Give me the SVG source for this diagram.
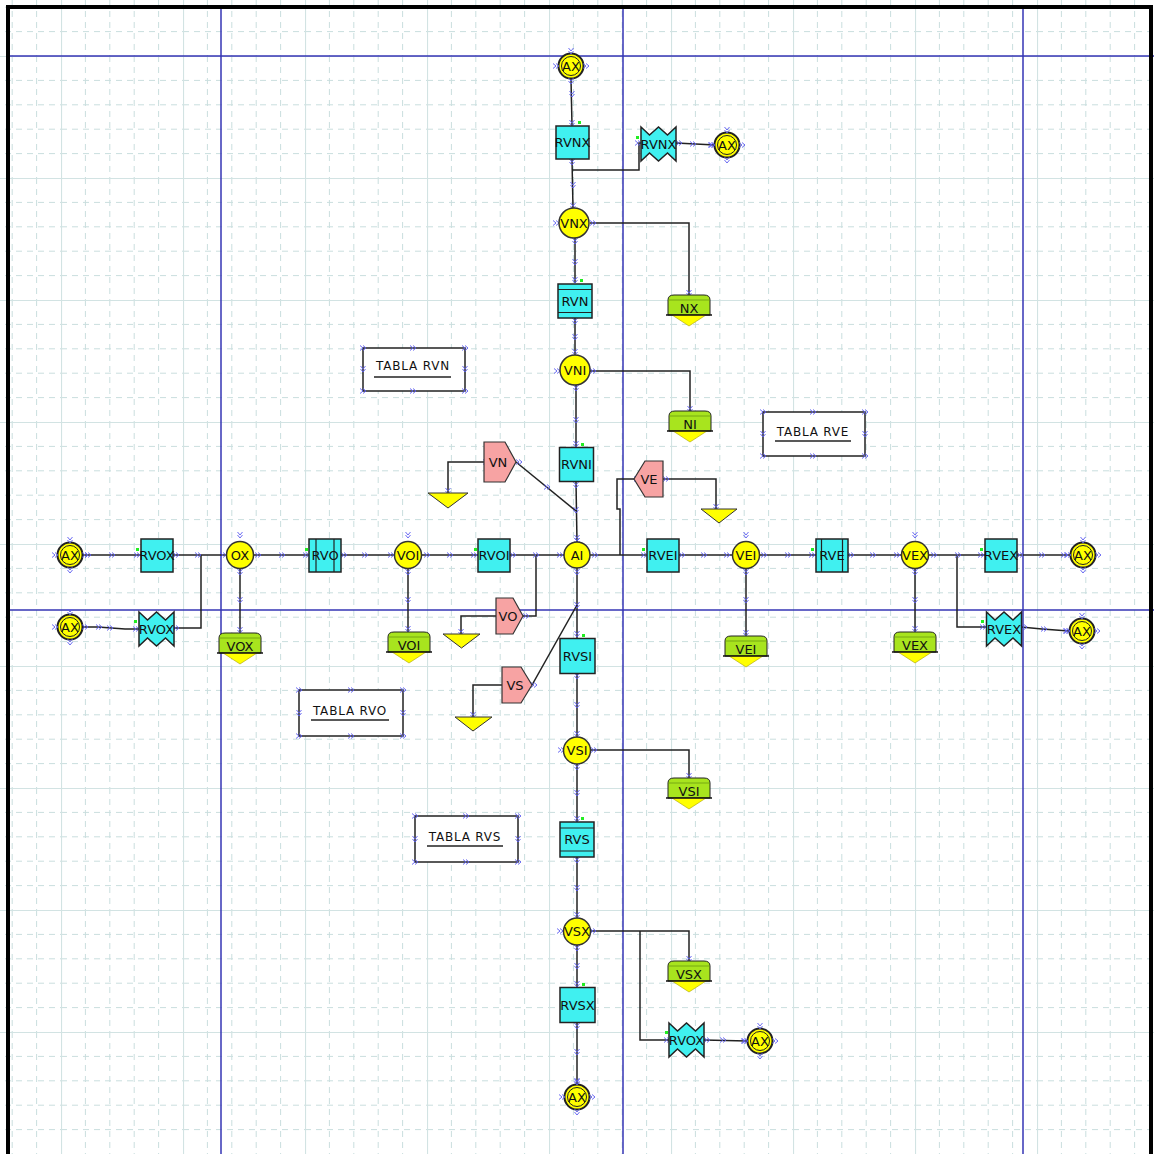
<svg xmlns="http://www.w3.org/2000/svg" xmlns:xlink="http://www.w3.org/1999/xlink" width="1154" height="1154" viewBox="0 0 1154 1154">
<style>
.rc{fill:#40f0f0;stroke:#222;stroke-width:1.5}
.ci{fill:#ffff00;stroke:#333;stroke-width:1.5}
.pk{fill:#f7a3a3;stroke:#333;stroke-width:1.2}
.tri{fill:#ffff00;stroke:#333;stroke-width:1}
.lb{font-family:"DejaVu Sans",sans-serif;font-size:13px;fill:#111;text-anchor:middle;dominant-baseline:central}
.tl{font-family:"DejaVu Sans",sans-serif;font-size:12px;fill:#111;text-anchor:middle;dominant-baseline:central;letter-spacing:0.8px}
.w{fill:none;stroke:#222;stroke-width:1.5}
.bl{stroke:#3535b5;stroke-width:1.5}
.dt{fill:#22ee22}
.tb{fill:#fff;stroke:#222;stroke-width:1.5}
.ul{stroke:#222;stroke-width:1.5}
.in{fill:none;stroke:#222;stroke-width:1.2}
</style>
<defs>
<pattern id="grid" patternUnits="userSpaceOnUse" x="61" y="56" width="122" height="122">
<g stroke="#c9dede" stroke-width="1" stroke-dasharray="6,5" fill="none">
<path d="M24.4,0V122M48.8,0V122M73.2,0V122M97.6,0V122"/>
<path d="M0,24.4H122M0,48.8H122M0,73.2H122M0,97.6H122"/>
</g>
<path d="M0.5,0V122M0,0.5H122" stroke="#d2e3e3" stroke-width="1.2" fill="none"/>
</pattern>
<path id="pt" d="M-3,-2.5L0,0L-3,2.5M0,-2.5L3,0L0,2.5" fill="none" stroke="#5a5af0" stroke-width="0.9"/>
<path id="pv" d="M-2.5,-3L0,0L2.5,-3M-2.5,0L0,3L2.5,0" fill="none" stroke="#5a5af0" stroke-width="0.9"/>
<path id="zig" d="M-17.5,-17L-9,-9L0,-17L9,-9L17.5,-17L17.5,17L9,9L0,17L-9,9L-17.5,17Z"/>
<g id="store">
<path d="M-21,5Q-21,0 -15,0L15,0Q21,0 21,5L21,20L-21,20Z" fill="#a8e41e" stroke="#222" stroke-width="1"/>
<path d="M-21,5H21" stroke="#6a9a10" stroke-width="0.8"/>
<path d="M-17,20L17,20L0,31Z" fill="#ffff00" stroke="#aaa000" stroke-width="0.6"/>
<path d="M-23,20H23" stroke="#111" stroke-width="1.5"/>
</g>
<g id="axc">
<circle r="12.5" fill="#ffff00" stroke="#222" stroke-width="2"/>
<circle r="9.5" fill="none" stroke="#222" stroke-width="1"/>
<use href="#pv" y="-15"/><use href="#pv" y="15"/><use href="#pt" x="-15"/><use href="#pt" x="15"/>
</g>
</defs>

<rect width="1154" height="1154" fill="#fff"/>
<rect width="1154" height="1154" fill="url(#grid)"/>
<g id="guides" class="bl">
<line x1="8" y1="56" x2="1154" y2="56"/>
<line x1="8" y1="610" x2="1154" y2="610"/>
<line x1="221" y1="6" x2="221" y2="1154"/>
<line x1="623" y1="6" x2="623" y2="1154"/>
<line x1="1023" y1="6" x2="1023" y2="1154"/>
</g>
<path id="frame" d="M8,1156V7H1151V1156" fill="none" stroke="#000" stroke-width="4"/>

<g id="connectors" class="w">
<path d="M571,79L572,126"/>
<path d="M572,159L573,209"/>
<path d="M572,170H639V143H641"/>
<path d="M676,143L715,145"/>
<path d="M575,238V283"/>
<path d="M590,223H689V295"/>
<path d="M575,318V355"/>
<path d="M590,371H690V411"/>
<path d="M576,385V447"/>
<path d="M576,482L577,542"/>
<path d="M516,462L576,511"/>
<path d="M484,462H448V493"/>
<path d="M634,479H617V509H620V555"/>
<path d="M663,479H716V509"/>
<path d="M83,555H1070"/>
<path d="M173,628H201V555"/>
<path d="M82,627H98L125,629H139"/>
<path d="M240,568V633"/>
<path d="M408,568V632"/>
<path d="M523,616H536V555"/>
<path d="M496,616H461V634"/>
<path d="M577,568V638"/>
<path d="M532,685L577,605"/>
<path d="M502,685H473V717"/>
<path d="M746,568V636"/>
<path d="M915,568V632"/>
<path d="M957,555V627H986"/>
<path d="M1021,627L1042,629L1069,631"/>
<path d="M577,673V737"/>
<path d="M591,750H689V778"/>
<path d="M577,764V822"/>
<path d="M577,857V918"/>
<path d="M590,931H689V961"/>
<path d="M640,931V1040H669"/>
<path d="M577,945V987"/>
<path d="M577,1023V1085"/>
<path d="M704,1040L747,1041"/>
</g>

<g id="ports">
<use href="#pt" x="88" y="555"/><use href="#pt" x="112" y="555"/><use href="#pt" x="137" y="555"/>
<use href="#pt" x="176" y="555"/><use href="#pt" x="198" y="555"/><use href="#pt" x="223" y="555"/>
<use href="#pt" x="258" y="555"/><use href="#pt" x="282" y="555"/><use href="#pt" x="306" y="555"/>
<use href="#pt" x="344" y="555"/><use href="#pt" x="365" y="555"/><use href="#pt" x="391" y="555"/>
<use href="#pt" x="427" y="555"/><use href="#pt" x="450" y="555"/><use href="#pt" x="474" y="555"/>
<use href="#pt" x="513" y="555"/><use href="#pt" x="536" y="555"/><use href="#pt" x="560" y="555"/>
<use href="#pt" x="595" y="555"/><use href="#pt" x="644" y="555"/>
<use href="#pt" x="682" y="555"/><use href="#pt" x="704" y="555"/><use href="#pt" x="727" y="555"/>
<use href="#pt" x="764" y="555"/><use href="#pt" x="788" y="555"/><use href="#pt" x="812" y="555"/>
<use href="#pt" x="851" y="555"/><use href="#pt" x="873" y="555"/><use href="#pt" x="897" y="555"/>
<use href="#pt" x="934" y="555"/><use href="#pt" x="958" y="555"/><use href="#pt" x="981" y="555"/>
<use href="#pt" x="1020" y="555"/><use href="#pt" x="1042" y="555"/><use href="#pt" x="1064" y="555"/>
<use href="#pt" x="99" y="627"/><use href="#pt" x="110" y="628"/><use href="#pt" x="136" y="629"/>
<use href="#pt" x="176" y="628"/>
<use href="#pt" x="983" y="627"/><use href="#pt" x="1024" y="627"/><use href="#pt" x="1044" y="629"/><use href="#pt" x="1066" y="631"/>
<use href="#pt" x="679" y="143"/><use href="#pt" x="693" y="144"/><use href="#pt" x="711" y="145"/><use href="#pt" x="638" y="143"/>
<use href="#pt" x="593" y="223"/><use href="#pt" x="593" y="371"/><use href="#pt" x="594" y="750"/><use href="#pt" x="593" y="931"/>
<use href="#pt" x="556" y="223"/><use href="#pt" x="557" y="371"/><use href="#pt" x="561" y="750"/><use href="#pt" x="560" y="931"/>
<use href="#pt" x="707" y="1040"/><use href="#pt" x="723" y="1040"/><use href="#pt" x="744" y="1041"/><use href="#pt" x="667" y="1040"/>
<use href="#pt" x="486" y="462"/><use href="#pt" x="519" y="462"/><use href="#pt" x="637" y="479"/><use href="#pt" x="666" y="479"/>
<use href="#pt" x="499" y="616"/><use href="#pt" x="526" y="616"/><use href="#pt" x="505" y="685"/><use href="#pt" x="534" y="685"/>
<use href="#pt" x="547" y="487"/>
<use href="#pv" x="572" y="94"/><use href="#pv" x="572" y="123"/>
<use href="#pv" x="572" y="162"/><use href="#pv" x="573" y="185"/><use href="#pv" x="573" y="206"/>
<use href="#pv" x="575" y="241"/><use href="#pv" x="575" y="262"/><use href="#pv" x="575" y="280"/>
<use href="#pv" x="575" y="321"/><use href="#pv" x="575" y="337"/><use href="#pv" x="575" y="352"/>
<use href="#pv" x="576" y="388"/><use href="#pv" x="576" y="420"/><use href="#pv" x="576" y="444"/>
<use href="#pv" x="576" y="485"/><use href="#pv" x="576" y="510"/><use href="#pv" x="577" y="538"/>
<use href="#pv" x="577" y="572"/><use href="#pv" x="577" y="605"/><use href="#pv" x="577" y="634"/>
<use href="#pv" x="577" y="676"/><use href="#pv" x="577" y="705"/><use href="#pv" x="577" y="734"/>
<use href="#pv" x="577" y="767"/><use href="#pv" x="577" y="793"/><use href="#pv" x="577" y="819"/>
<use href="#pv" x="577" y="860"/><use href="#pv" x="577" y="888"/><use href="#pv" x="577" y="915"/>
<use href="#pv" x="577" y="948"/><use href="#pv" x="577" y="966"/><use href="#pv" x="577" y="984"/>
<use href="#pv" x="577" y="1026"/><use href="#pv" x="577" y="1052"/><use href="#pv" x="577" y="1081"/>
<use href="#pv" x="689" y="293"/><use href="#pv" x="690" y="409"/><use href="#pv" x="689" y="776"/><use href="#pv" x="689" y="959"/>
<use href="#pv" x="448" y="491"/><use href="#pv" x="716" y="507"/><use href="#pv" x="461" y="632"/><use href="#pv" x="473" y="715"/>
<use href="#pv" x="240" y="535"/><use href="#pv" x="240" y="572"/><use href="#pv" x="240" y="600"/><use href="#pv" x="240" y="630"/>
<use href="#pv" x="408" y="535"/><use href="#pv" x="408" y="572"/><use href="#pv" x="408" y="600"/><use href="#pv" x="408" y="629"/>
<use href="#pv" x="746" y="535"/><use href="#pv" x="746" y="572"/><use href="#pv" x="746" y="600"/><use href="#pv" x="746" y="633"/>
<use href="#pv" x="915" y="535"/><use href="#pv" x="915" y="572"/><use href="#pv" x="915" y="600"/><use href="#pv" x="915" y="629"/>
<use href="#pv" x="577" y="541"/>
</g>

<!-- vertical chain -->
<g id="ax-top"><use href="#axc" x="571" y="66"/><text class="lb" x="571" y="66">AX</text></g>
<g id="rvnx"><rect class="rc" x="556" y="126" width="33" height="33"/><rect class="dt" x="578" y="121" width="3" height="3"/><text class="lb" x="572.5" y="142.5">RVNX</text></g>
<g id="rvnx-z"><use href="#zig" x="658.5" y="144" class="rc"/><rect class="dt" x="636" y="136" width="3" height="3"/><text class="lb" x="658.5" y="144">RVNX</text></g>
<g id="ax-rvnx"><use href="#axc" x="727" y="145"/><text class="lb" x="727" y="145">AX</text></g>
<g id="vnx"><circle class="ci" cx="574" cy="223" r="15"/><text class="lb" x="574" y="223">VNX</text></g>
<g id="nx"><use href="#store" x="689" y="295"/><text class="lb" x="689" y="308">NX</text></g>
<g id="rvn"><rect class="rc" x="558" y="284" width="34" height="34"/><path class="in" d="M558,289.5H592M558,312.5H592"/><rect class="dt" x="580" y="279" width="3" height="3"/><text class="lb" x="575" y="301">RVN</text></g>
<g id="vni"><circle class="ci" cx="575" cy="370" r="15"/><text class="lb" x="575" y="370">VNI</text></g>
<g id="ni"><use href="#store" x="690" y="411"/><text class="lb" x="690" y="424">NI</text></g>
<g id="rvni"><rect class="rc" x="559.5" y="447.5" width="34" height="34"/><rect class="dt" x="581" y="443" width="3" height="3"/><text class="lb" x="576.5" y="464.5">RVNI</text></g>
<g id="vn"><polygon class="pk" points="484,442 505,442 516,462 505,482 484,482"/><text class="lb" x="498" y="462">VN</text></g>
<g id="vn-sink"><polygon class="tri" points="428,493 468,493 448,508"/></g>
<g id="ve"><polygon class="pk" points="663,461 663,497 645,497 634,479 645,461"/><text class="lb" x="649" y="479">VE</text></g>
<g id="ve-sink"><polygon class="tri" points="701,509 737,509 719,523"/></g>

<!-- horizontal chain -->
<g id="ax-left"><use href="#axc" x="70" y="555"/><text class="lb" x="70" y="555">AX</text></g>
<g id="rvox"><rect class="rc" x="141" y="539" width="32" height="33"/><rect class="dt" x="136" y="548" width="3" height="3"/><text class="lb" x="157" y="555.5">RVOX</text></g>
<g id="ax-left2"><use href="#axc" x="70" y="627"/><text class="lb" x="70" y="627">AX</text></g>
<g id="rvox-z"><use href="#zig" x="156.5" y="629" class="rc"/><rect class="dt" x="134" y="620" width="3" height="3"/><text class="lb" x="156.5" y="629">RVOX</text></g>
<g id="ox"><circle class="ci" cx="240" cy="555" r="13.5"/><text class="lb" x="240" y="555">OX</text></g>
<g id="vox"><use href="#store" x="240" y="633"/><text class="lb" x="240" y="646">VOX</text></g>
<g id="rvo"><rect class="rc" x="309" y="539" width="32" height="33"/><path class="in" d="M316,539V572M334,539V572"/><rect class="dt" x="305" y="548" width="3" height="3"/><text class="lb" x="325" y="555.5">RVO</text></g>
<g id="voi"><circle class="ci" cx="408" cy="555" r="13.5"/><text class="lb" x="408" y="555">VOI</text></g>
<g id="voi-s"><use href="#store" x="409" y="632"/><text class="lb" x="409" y="645">VOI</text></g>
<g id="rvoi"><rect class="rc" x="478" y="539" width="32" height="33"/><rect class="dt" x="474" y="548" width="3" height="3"/><text class="lb" x="494" y="555.5">RVOI</text></g>
<g id="vo"><polygon class="pk" points="496,598 513,598 523,616 513,634 496,634"/><text class="lb" x="508" y="616">VO</text></g>
<g id="vo-sink"><polygon class="tri" points="443,634 480,634 461.5,648"/></g>
<g id="ai"><circle class="ci" cx="577" cy="555" r="13"/><text class="lb" x="577" y="555">AI</text></g>
<g id="rvei"><rect class="rc" x="647" y="539" width="32" height="33"/><rect class="dt" x="642" y="548" width="3" height="3"/><text class="lb" x="663" y="555.5">RVEI</text></g>
<g id="vei"><circle class="ci" cx="746" cy="555" r="13.5"/><text class="lb" x="746" y="555">VEI</text></g>
<g id="vei-s"><use href="#store" x="746" y="636"/><text class="lb" x="746" y="649">VEI</text></g>
<g id="rve"><rect class="rc" x="816" y="539" width="32" height="33"/><path class="in" d="M821.5,539V572M842.5,539V572"/><rect class="dt" x="811" y="548" width="3" height="3"/><text class="lb" x="832" y="555.5">RVE</text></g>
<g id="vex"><circle class="ci" cx="915" cy="555" r="13.5"/><text class="lb" x="915" y="555">VEX</text></g>
<g id="vex-s"><use href="#store" x="915" y="632"/><text class="lb" x="915" y="645">VEX</text></g>
<g id="rvex"><rect class="rc" x="985" y="539" width="32" height="33"/><rect class="dt" x="980" y="548" width="3" height="3"/><text class="lb" x="1001" y="555.5">RVEX</text></g>
<g id="ax-right"><use href="#axc" x="1083" y="555"/><text class="lb" x="1083" y="555">AX</text></g>
<g id="rvex-z"><use href="#zig" x="1004" y="629" class="rc"/><rect class="dt" x="981" y="620" width="3" height="3"/><text class="lb" x="1004" y="629">RVEX</text></g>
<g id="ax-right2"><use href="#axc" x="1082" y="631"/><text class="lb" x="1082" y="631">AX</text></g>

<!-- lower vertical chain -->
<g id="rvsi"><rect class="rc" x="560" y="638.5" width="35" height="35"/><rect class="dt" x="582" y="634" width="3" height="3"/><text class="lb" x="577.5" y="656">RVSI</text></g>
<g id="vs"><polygon class="pk" points="502,667 521,667 532,685 521,703 502,703"/><text class="lb" x="515" y="685">VS</text></g>
<g id="vs-sink"><polygon class="tri" points="455,717 492,717 473,731"/></g>
<g id="vsi"><circle class="ci" cx="577" cy="750.5" r="13.5"/><text class="lb" x="577" y="750.5">VSI</text></g>
<g id="vsi-s"><use href="#store" x="689" y="778"/><text class="lb" x="689" y="791">VSI</text></g>
<g id="rvs"><rect class="rc" x="560" y="822" width="34" height="35"/><path class="in" d="M560,828H594M560,851H594"/><rect class="dt" x="581" y="817" width="3" height="3"/><text class="lb" x="577" y="839.5">RVS</text></g>
<g id="vsx"><circle class="ci" cx="577" cy="931.5" r="13.5"/><text class="lb" x="577" y="931.5">VSX</text></g>
<g id="vsx-s"><use href="#store" x="689" y="961"/><text class="lb" x="689" y="974">VSX</text></g>
<g id="rvsx"><rect class="rc" x="560" y="987.5" width="35" height="35"/><rect class="dt" x="582" y="983" width="3" height="3"/><text class="lb" x="577.5" y="1005">RVSX</text></g>
<g id="ax-bottom"><use href="#axc" x="577" y="1097"/><text class="lb" x="577" y="1097">AX</text></g>
<g id="rvox-z2"><use href="#zig" x="686.5" y="1040" class="rc"/><rect class="dt" x="665" y="1031" width="3" height="3"/><text class="lb" x="686.5" y="1040">RVOX</text></g>
<g id="ax-rvox2"><use href="#axc" x="760" y="1041"/><text class="lb" x="760" y="1041">AX</text></g>

<!-- tables -->
<g id="tabla-rvn"><rect class="tb" x="363" y="348" width="102" height="43"/><text class="tl" x="413" y="366">TABLA RVN</text><line class="ul" x1="374" y1="377" x2="451" y2="377"/>
<use href="#pt" x="363" y="348"/><use href="#pt" x="413" y="348"/><use href="#pt" x="465" y="348"/><use href="#pv" x="363" y="369"/><use href="#pv" x="465" y="369"/><use href="#pt" x="363" y="391"/><use href="#pt" x="413" y="391"/><use href="#pt" x="465" y="391"/></g>
<g id="tabla-rve"><rect class="tb" x="763" y="412" width="102" height="44"/><text class="tl" x="813" y="432">TABLA RVE</text><line class="ul" x1="775" y1="441" x2="851" y2="441"/>
<use href="#pt" x="763" y="412"/><use href="#pt" x="813" y="412"/><use href="#pt" x="865" y="412"/><use href="#pv" x="763" y="434"/><use href="#pv" x="865" y="434"/><use href="#pt" x="763" y="456"/><use href="#pt" x="813" y="456"/><use href="#pt" x="865" y="456"/></g>
<g id="tabla-rvo"><rect class="tb" x="299" y="690" width="104" height="46"/><text class="tl" x="350" y="711">TABLA RVO</text><line class="ul" x1="311" y1="720" x2="389" y2="720"/>
<use href="#pt" x="299" y="690"/><use href="#pt" x="351" y="690"/><use href="#pt" x="403" y="690"/><use href="#pv" x="299" y="713"/><use href="#pv" x="403" y="713"/><use href="#pt" x="299" y="736"/><use href="#pt" x="351" y="736"/><use href="#pt" x="403" y="736"/></g>
<g id="tabla-rvs"><rect class="tb" x="415" y="816" width="103" height="46"/><text class="tl" x="465" y="837">TABLA RVS</text><line class="ul" x1="427" y1="846" x2="503" y2="846"/>
<use href="#pt" x="415" y="816"/><use href="#pt" x="466" y="816"/><use href="#pt" x="518" y="816"/><use href="#pv" x="415" y="839"/><use href="#pv" x="518" y="839"/><use href="#pt" x="415" y="862"/><use href="#pt" x="466" y="862"/><use href="#pt" x="518" y="862"/></g>
</svg>
